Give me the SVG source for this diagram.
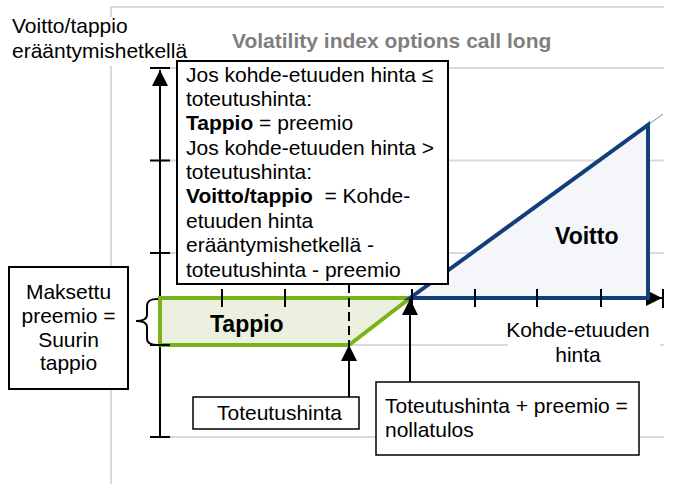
<svg xmlns="http://www.w3.org/2000/svg" width="673" height="484" viewBox="0 0 673 484">
<style>
text{font-family:"Liberation Sans",Arial,sans-serif;font-size:21px;fill:#000}
.b{font-weight:bold}
.grid{stroke:#d9d9d9;stroke-width:2;fill:none}
.box{fill:#fff;stroke:#000;stroke-width:2}
.ax{stroke:#000;stroke-width:2;fill:none}
.tick{stroke:#000;stroke-width:2}
</style>
<defs>
<marker id="ah" viewBox="0 0 16 16" refX="16" refY="8" markerWidth="16" markerHeight="16" markerUnits="userSpaceOnUse" orient="auto">
<path d="M0,0 L16,8 L0,16 z" fill="#000"/>
</marker>
</defs>
<rect width="673" height="484" fill="#fff"/>
<g id="frame">
<path class="grid" d="M111,484 V7 H664"/>
<path class="grid" d="M160,68 H664 M160,160.5 H664 M160,253 H664 M160,345 H664 M160,437 H664"/>
</g>
<g id="title"><text class="b" x="232" y="48" style="fill:#7f7f7f">Volatility index options call long</text></g>
<g id="ylabel">
<rect x="8" y="17" width="182" height="49" fill="#fff"/>
<text x="12" y="33">Voitto/tappio</text>
<text x="12" y="58">erääntymishetkellä</text>
</g>
<g id="xlabel">
<rect x="508" y="320" width="152" height="48" fill="#fff"/>
<text x="578" y="337" text-anchor="middle">Kohde-etuuden</text>
<text x="578" y="362" text-anchor="middle">hinta</text>
</g>
<g id="connectors">
<line class="ax" x1="160" y1="298" x2="662" y2="298" marker-end="url(#ah)"/>
<line class="ax" x1="160" y1="437" x2="160" y2="70" marker-end="url(#ah)"/>
<line x1="349" y1="345" x2="663" y2="114" stroke="#5b8bd0" stroke-width="1"/>
</g>
<g id="area-loss">
<polygon points="160,298 410,298 349,345 160,345" fill="#ebf1de" stroke="#7ab317" stroke-width="4" stroke-linejoin="miter"/>
<text class="b" x="210" y="332" style="font-size:23px">Tappio</text>
</g>
<g id="area-profit">
<polygon points="410,298 648,125 648,298" fill="#f4f6f9" stroke="#123f7c" stroke-width="4" stroke-linejoin="miter"/>
<text class="b" x="555" y="244" style="font-size:23px">Voitto</text>
</g>
<g id="ticks">
<path class="tick" d="M150,68 H170 M150,160.5 H170 M150,253 H170 M150,345 H170 M150,437 H170"/>
<path class="tick" d="M222,289 V307 M285,289 V307 M412,289 V307 M475,289 V307 M537,289 V307 M601,289 V307 M663,289 V308"/>
<line x1="349" y1="284" x2="349" y2="345" stroke="#000" stroke-width="2" stroke-dasharray="9,5"/>
</g>
<g id="arrows">
<line class="ax" x1="349" y1="397" x2="349" y2="345" marker-end="url(#ah)"/>
<line class="ax" x1="410" y1="382" x2="410" y2="299" marker-end="url(#ah)"/>
<path d="M158,299 C150,299 147,301 147,306 L147,315 C147,319 143,321 136,321 C143,321 147,323 147,327 L147,339 C147,343 150,345 158,345" fill="none" stroke="#000" stroke-width="2"/>
</g>
<g id="box-conditions">
<rect class="box" x="177" y="61" width="271" height="223"/>
<text x="186" y="82">Jos kohde-etuuden hinta ≤</text>
<text x="186" y="106">toteutushinta:</text>
<text x="186" y="130"><tspan class="b">Tappio</tspan> = preemio</text>
<text x="186" y="155">Jos kohde-etuuden hinta &gt;</text>
<text x="186" y="179">toteutushinta:</text>
<text x="186" y="203"><tspan class="b">Voitto/tappio</tspan>&#160; = Kohde-</text>
<text x="186" y="228">etuuden hinta</text>
<text x="186" y="252">erääntymishetkellä -</text>
<text x="186" y="277">toteutushinta - preemio</text>
</g>
<g id="box-premium">
<rect class="box" x="9" y="267" width="119" height="122"/>
<text x="68.5" y="299" text-anchor="middle">Maksettu</text>
<text x="68.5" y="323" text-anchor="middle">preemio =</text>
<text x="68.5" y="347" text-anchor="middle">Suurin</text>
<text x="68.5" y="370" text-anchor="middle">tappio</text>
</g>
<g id="box-strike">
<rect class="box" x="193" y="397" width="166" height="32" style="stroke-width:1.5"/>
<text x="217" y="420">Toteutushinta</text>
</g>
<g id="box-breakeven">
<rect class="box" x="376" y="382" width="263" height="73" style="stroke-width:1.5"/>
<text x="385" y="413">Toteutushinta + preemio =</text>
<text x="385" y="437">nollatulos</text>
</g>
</svg>
